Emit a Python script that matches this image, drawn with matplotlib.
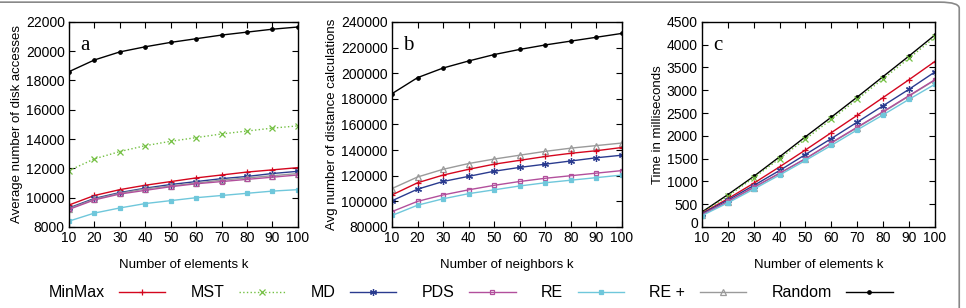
import matplotlib
matplotlib.use("Agg")
import matplotlib.pyplot as plt
from matplotlib.patches import FancyBboxPatch
from matplotlib.transforms import ScaledTranslation

plt.rcParams['font.family'] = ['Liberation Sans', 'DejaVu Sans']

k = [10, 20, 30, 40, 50, 60, 70, 80, 90, 100]

# panel a: average number of disk accesses
a_random = [18600, 19400, 19950, 20300, 20600, 20850, 21100, 21300, 21500, 21650]
a_mst = [11850, 12650, 13150, 13550, 13850, 14100, 14350, 14550, 14750, 14900]
a_minmax = [9500, 10150, 10550, 10850, 11100, 11350, 11550, 11750, 11900, 12050]
a_md = [9300, 9950, 10350, 10650, 10900, 11100, 11300, 11450, 11650, 11800]
a_replus = [9250, 9900, 10300, 10600, 10800, 11000, 11200, 11350, 11500, 11650]
a_pds = [9200, 9850, 10250, 10500, 10750, 10950, 11100, 11250, 11400, 11550]
a_re = [8400, 8950, 9300, 9600, 9800, 10000, 10150, 10300, 10450, 10550]

# panel b: avg number of distance calculations
b_random = [184000, 196500, 204000, 209500, 214500, 218500, 222000, 225000, 228000, 231000]
b_replus = [110000, 119000, 125000, 129500, 133000, 136000, 139000, 141500, 143500, 145500]
b_minmax = [105000, 114500, 120500, 125000, 129000, 132000, 135000, 137500, 139500, 142000]
b_md = [100500, 109500, 115500, 119500, 123500, 126500, 129000, 131500, 134000, 136000]
b_pds = [92000, 100000, 105000, 109000, 112500, 115500, 118000, 120000, 122000, 124000]
b_re = [89000, 97000, 102000, 106000, 109000, 112000, 114500, 116500, 118500, 120500]

# panel c: time in milliseconds
c_random = [330, 710, 1110, 1540, 1980, 2410, 2850, 3300, 3750, 4210]
c_mst = [310, 680, 1080, 1500, 1930, 2360, 2800, 3250, 3700, 4160]
c_minmax = [300, 620, 960, 1320, 1690, 2070, 2450, 2840, 3230, 3630]
c_md = [290, 590, 910, 1240, 1590, 1940, 2300, 2660, 3020, 3400]
c_pds = [270, 560, 870, 1180, 1500, 1850, 2190, 2530, 2880, 3230]
c_replus = [265, 555, 865, 1175, 1495, 1840, 2180, 2520, 2870, 3220]
c_re = [250, 530, 830, 1140, 1460, 1790, 2130, 2460, 2800, 3130]

styles = {
    'MinMax': dict(color='#d4061e', marker='+', ms=5, ls='-'),
    'MST': dict(color='#74c043', marker='x', ms=4, ls=':'),
    'MD': dict(color='#2a3b8f', marker=(6, 2, 0), ms=5, ls='-'),
    'PDS': dict(color='#b24f9c', marker='s', ms=3.5, ls='-', mfc='none'),
    'RE': dict(color='#6fc7db', marker='s', ms=3, ls='-'),
    'RE +': dict(color='#9a9a9a', marker='^', ms=4, ls='-', mfc='none'),
    'Random': dict(color='black', marker='o', ms=2.5, ls='-'),
}

fig = plt.figure(figsize=(9.66, 3.08), dpi=100)

border = FancyBboxPatch((-0.05, -0.2), 1.043, 1.193, boxstyle="round,pad=0,rounding_size=0.02",
                        transform=fig.transFigure, fill=False, ec='#888888', lw=1.2)
fig.patches.append(border)

bottom, height = 0.263, 0.666
ax_a = fig.add_axes([0.0714, bottom, 0.237, height])
ax_b = fig.add_axes([0.4058, bottom, 0.238, height])
ax_c = fig.add_axes([0.7267, bottom, 0.241, height])

panels = [
    (ax_a, 'a', 'Number of elements k', 'Average number of disk accesses',
     [('Random', a_random), ('MST', a_mst), ('MinMax', a_minmax), ('MD', a_md),
      ('RE +', a_replus), ('PDS', a_pds), ('RE', a_re)], (8000, 22000), 2000),
    (ax_b, 'b', 'Number of neighbors k', 'Avg number of distance calculations',
     [('Random', b_random), ('RE +', b_replus), ('MinMax', b_minmax), ('MD', b_md),
      ('PDS', b_pds), ('RE', b_re)], (80000, 240000), 20000),
    (ax_c, 'c', 'Number of elements k', 'Time in milliseconds',
     [('Random', c_random), ('MST', c_mst), ('MinMax', c_minmax), ('MD', c_md),
      ('RE +', c_replus), ('PDS', c_pds), ('RE', c_re)], (0, 4500), 500),
]

for ax, letter, xl, yl, series, ylim, step in panels:
    for name, vals in series:
        ax.plot(k, vals, lw=1, mew=0.9, **styles[name])
    ax.set_xlim(10, 100)
    ax.set_ylim(*ylim)
    ax.set_xticks(k)
    ax.set_yticks(range(ylim[0], ylim[1] + 1, step))
    ax.tick_params(direction='in', top=True, right=True, length=4, width=0.8,
                   labelsize=10, pad=3)
    ax.set_xlabel(xl, fontsize=9.5, labelpad=10)
    ax.set_ylabel(yl, fontsize=9.5, labelpad=2)
    ax.text(0.05, 0.93, letter, transform=ax.transAxes, fontsize=15,
            family='Liberation Serif', va='top', ha='left')
    for sp in ax.spines.values():
        sp.set_linewidth(1)

# lift the "0" on panel c a little so it clears the "10" below it
zero = ax_c.get_yticklabels()[0]
zero.set_transform(zero.get_transform() + ScaledTranslation(0, 3 / 72, fig.dpi_scale_trans))

handles = []
labels = ['MinMax', 'MST', 'MD', 'PDS', 'RE', 'RE +', 'Random']
for name in labels:
    h, = ax_a.plot([], [], lw=1, mew=0.9, **styles[name])
    handles.append(h)

fig.legend(handles, labels, loc='center', bbox_to_anchor=(0.487, 0.05), ncol=7,
           frameon=False, markerfirst=False, handlelength=2.9, fontsize=11.5,
           columnspacing=1.6, handletextpad=0.9)

fig.savefig('out.png', dpi=100)
